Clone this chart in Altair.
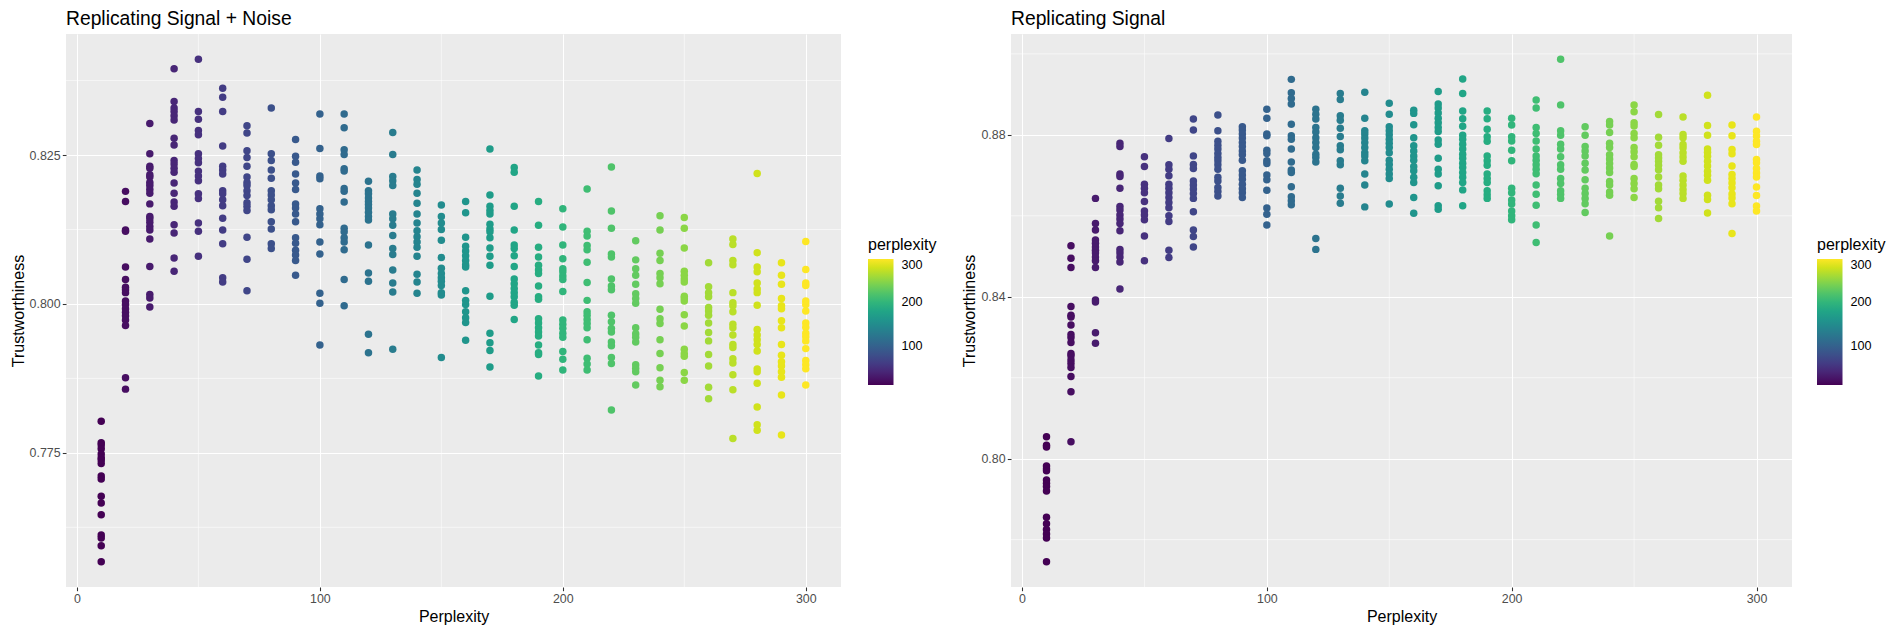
import altair as alt
import pandas as pd

PERPLEXITY = [10, 20, 30, 40, 50, 60, 70, 80, 90, 100, 110, 120, 130, 140, 150,
              160, 170, 180, 190, 200, 210, 220, 230, 240, 250, 260, 270, 280, 290, 300]

# Trustworthiness per perplexity value, panel "Replicating Signal + Noise"
NOISE_TRUST = [
    [0.7803, 0.7767, 0.7763, 0.7757, 0.7748, 0.7742, 0.7738, 0.7732, 0.7711, 0.7706, 0.7677, 0.7666, 0.7646, 0.7612, 0.7607, 0.7594, 0.7567],
    [0.8189, 0.8172, 0.8124, 0.8122, 0.8062, 0.8041, 0.8028, 0.8024, 0.8019, 0.8005, 0.7999, 0.7992, 0.7986, 0.7980, 0.7973, 0.7964, 0.7876, 0.7857],
    [0.8303, 0.8252, 0.8231, 0.8228, 0.8217, 0.8213, 0.8204, 0.8199, 0.8192, 0.8186, 0.8168, 0.8147, 0.8143, 0.8137, 0.8130, 0.8124, 0.8109, 0.8063, 0.8016, 0.8010, 0.7995],
    [0.8395, 0.8340, 0.8329, 0.8323, 0.8316, 0.8309, 0.8278, 0.8267, 0.8241, 0.8235, 0.8228, 0.8221, 0.8203, 0.8186, 0.8171, 0.8164, 0.8133, 0.8119, 0.8077, 0.8055],
    [0.8411, 0.8323, 0.8310, 0.8291, 0.8284, 0.8252, 0.8244, 0.8237, 0.8223, 0.8215, 0.8207, 0.8185, 0.8177, 0.8136, 0.8122, 0.8080],
    [0.8362, 0.8347, 0.8323, 0.8265, 0.8231, 0.8225, 0.8218, 0.8190, 0.8185, 0.8175, 0.8165, 0.8144, 0.8124, 0.8101, 0.8044, 0.8037],
    [0.8299, 0.8287, 0.8257, 0.8246, 0.8231, 0.8213, 0.8204, 0.8199, 0.8190, 0.8182, 0.8170, 0.8164, 0.8157, 0.8112, 0.8075, 0.8022],
    [0.8329, 0.8252, 0.8241, 0.8225, 0.8211, 0.8190, 0.8183, 0.8175, 0.8165, 0.8158, 0.8138, 0.8126, 0.8101, 0.8093],
    [0.8276, 0.8248, 0.8238, 0.8218, 0.8203, 0.8192, 0.8168, 0.8161, 0.8151, 0.8138, 0.8111, 0.8102, 0.8090, 0.8082, 0.8073, 0.8048],
    [0.8319, 0.8261, 0.8215, 0.8210, 0.8160, 0.8151, 0.8143, 0.8133, 0.8104, 0.8084, 0.8018, 0.8001, 0.7931],
    [0.8319, 0.8296, 0.8259, 0.8251, 0.8227, 0.8223, 0.8194, 0.8189, 0.8171, 0.8127, 0.8121, 0.8111, 0.8104, 0.8091, 0.8041, 0.7997],
    [0.8206, 0.8190, 0.8185, 0.8178, 0.8172, 0.8167, 0.8161, 0.8154, 0.8147, 0.8141, 0.8099, 0.8052, 0.8038, 0.7949, 0.7918],
    [0.8288, 0.8251, 0.8214, 0.8207, 0.8199, 0.8151, 0.8143, 0.8132, 0.8115, 0.8093, 0.8083, 0.8057, 0.8035, 0.8020, 0.7924],
    [0.8225, 0.8209, 0.8201, 0.8186, 0.8169, 0.8151, 0.8136, 0.8123, 0.8113, 0.8104, 0.8095, 0.8080, 0.8050, 0.8037, 0.8018],
    [0.8166, 0.8147, 0.8136, 0.8125, 0.8107, 0.8078, 0.8060, 0.8051, 0.8044, 0.8038, 0.8031, 0.8019, 0.8015, 0.7910],
    [0.8172, 0.8153, 0.8112, 0.8097, 0.8089, 0.8081, 0.8073, 0.8066, 0.8062, 0.8022, 0.8006, 0.7999, 0.7987, 0.7977, 0.7969, 0.7939],
    [0.8260, 0.8183, 0.8164, 0.8157, 0.8151, 0.8134, 0.8126, 0.8121, 0.8111, 0.8094, 0.8080, 0.8065, 0.8013, 0.7951, 0.7935, 0.7922, 0.7894],
    [0.8229, 0.8221, 0.8164, 0.8124, 0.8099, 0.8093, 0.8081, 0.8063, 0.8042, 0.8034, 0.8026, 0.8019, 0.8012, 0.8003, 0.7998, 0.7974],
    [0.8172, 0.8132, 0.8095, 0.8079, 0.8065, 0.8057, 0.8051, 0.8030, 0.8012, 0.8008, 0.7975, 0.7968, 0.7960, 0.7953, 0.7946, 0.7931, 0.7918, 0.7915, 0.7879],
    [0.8160, 0.8129, 0.8099, 0.8076, 0.8059, 0.8054, 0.8047, 0.8041, 0.8021, 0.7973, 0.7966, 0.7959, 0.7951, 0.7944, 0.7920, 0.7907, 0.7889],
    [0.8193, 0.8122, 0.8114, 0.8098, 0.8091, 0.8070, 0.8036, 0.8006, 0.7987, 0.7981, 0.7974, 0.7967, 0.7960, 0.7940, 0.7909, 0.7899, 0.7889],
    [0.8230, 0.8156, 0.8127, 0.8084, 0.8079, 0.8042, 0.8030, 0.8024, 0.7981, 0.7970, 0.7959, 0.7953, 0.7936, 0.7930, 0.7910, 0.7900, 0.7822],
    [0.8106, 0.8074, 0.8059, 0.8048, 0.8033, 0.8017, 0.8009, 0.8001, 0.7960, 0.7950, 0.7944, 0.7936, 0.7898, 0.7892, 0.7886, 0.7864],
    [0.8148, 0.8124, 0.8085, 0.8073, 0.8051, 0.8044, 0.8034, 0.7991, 0.7975, 0.7967, 0.7940, 0.7917, 0.7893, 0.7872, 0.7861],
    [0.8145, 0.8127, 0.8094, 0.8055, 0.8048, 0.8042, 0.8037, 0.8013, 0.8009, 0.8005, 0.7982, 0.7963, 0.7924, 0.7917, 0.7912, 0.7885, 0.7872],
    [0.8069, 0.8029, 0.8019, 0.8012, 0.7994, 0.7988, 0.7981, 0.7968, 0.7952, 0.7938, 0.7915, 0.7896, 0.7860, 0.7841],
    [0.8109, 0.8100, 0.8073, 0.8066, 0.8019, 0.8002, 0.7997, 0.7987, 0.7966, 0.7960, 0.7948, 0.7932, 0.7927, 0.7908, 0.7901, 0.7881, 0.7856, 0.7774],
    [0.8219, 0.8086, 0.8062, 0.8054, 0.8035, 0.8025, 0.8019, 0.7998, 0.7957, 0.7948, 0.7940, 0.7932, 0.7921, 0.7891, 0.7886, 0.7867, 0.7827, 0.7797, 0.7788],
    [0.8069, 0.8048, 0.8033, 0.8009, 0.7997, 0.7992, 0.7972, 0.7960, 0.7932, 0.7914, 0.7903, 0.7896, 0.7886, 0.7877, 0.7847, 0.7780],
    [0.8105, 0.8058, 0.8035, 0.8031, 0.8005, 0.7999, 0.7988, 0.7968, 0.7961, 0.7951, 0.7945, 0.7938, 0.7925, 0.7905, 0.7898, 0.7891, 0.7864],
]

# Trustworthiness per perplexity value, panel "Replicating Signal"
SIGNAL_TRUST = [
    [0.8054, 0.8033, 0.8029, 0.7982, 0.7975, 0.7970, 0.7947, 0.7939, 0.7931, 0.7920, 0.7855, 0.7839, 0.7825, 0.7814, 0.7804, 0.7745],
    [0.8526, 0.8495, 0.8472, 0.8376, 0.8354, 0.8350, 0.8330, 0.8307, 0.8299, 0.8287, 0.8260, 0.8254, 0.8244, 0.8235, 0.8225, 0.8203, 0.8165, 0.8042],
    [0.8643, 0.8581, 0.8565, 0.8540, 0.8532, 0.8523, 0.8515, 0.8508, 0.8498, 0.8489, 0.8472, 0.8392, 0.8387, 0.8311, 0.8285],
    [0.8779, 0.8771, 0.8703, 0.8697, 0.8668, 0.8623, 0.8614, 0.8602, 0.8592, 0.8581, 0.8563, 0.8517, 0.8508, 0.8498, 0.8486, 0.8419],
    [0.8746, 0.8722, 0.8678, 0.8668, 0.8657, 0.8635, 0.8612, 0.8602, 0.8590, 0.8550, 0.8489],
    [0.8791, 0.8726, 0.8715, 0.8699, 0.8678, 0.8668, 0.8657, 0.8645, 0.8633, 0.8620, 0.8600, 0.8586, 0.8515, 0.8497],
    [0.8839, 0.8812, 0.8748, 0.8727, 0.8717, 0.8686, 0.8676, 0.8666, 0.8655, 0.8643, 0.8610, 0.8565, 0.8549, 0.8523],
    [0.8849, 0.8810, 0.8784, 0.8774, 0.8765, 0.8754, 0.8744, 0.8736, 0.8726, 0.8715, 0.8695, 0.8686, 0.8670, 0.8660, 0.8649],
    [0.8820, 0.8812, 0.8802, 0.8792, 0.8781, 0.8771, 0.8760, 0.8751, 0.8737, 0.8711, 0.8701, 0.8690, 0.8678, 0.8667, 0.8657, 0.8645],
    [0.8863, 0.8841, 0.8802, 0.8798, 0.8762, 0.8754, 0.8736, 0.8729, 0.8701, 0.8689, 0.8663, 0.8619, 0.8604, 0.8577],
    [0.8937, 0.8904, 0.8890, 0.8876, 0.8826, 0.8798, 0.8789, 0.8765, 0.8733, 0.8713, 0.8707, 0.8672, 0.8647, 0.8637, 0.8627],
    [0.8863, 0.8851, 0.8839, 0.8818, 0.8807, 0.8793, 0.8781, 0.8769, 0.8752, 0.8744, 0.8733, 0.8544, 0.8517],
    [0.8902, 0.8887, 0.8847, 0.8836, 0.8816, 0.8796, 0.8773, 0.8763, 0.8736, 0.8726, 0.8668, 0.8649, 0.8631],
    [0.8905, 0.8841, 0.8810, 0.8802, 0.8792, 0.8781, 0.8769, 0.8756, 0.8748, 0.8736, 0.8703, 0.8676, 0.8622],
    [0.8878, 0.8851, 0.8820, 0.8810, 0.8800, 0.8789, 0.8779, 0.8769, 0.8756, 0.8737, 0.8727, 0.8715, 0.8703, 0.8692, 0.8629],
    [0.8861, 0.8853, 0.8825, 0.8793, 0.8773, 0.8760, 0.8748, 0.8737, 0.8722, 0.8711, 0.8695, 0.8682, 0.8645, 0.8606],
    [0.8907, 0.8876, 0.8866, 0.8854, 0.8841, 0.8830, 0.8818, 0.8808, 0.8787, 0.8777, 0.8742, 0.8715, 0.8703, 0.8674, 0.8625, 0.8616],
    [0.8938, 0.8902, 0.8859, 0.8840, 0.8821, 0.8799, 0.8789, 0.8777, 0.8765, 0.8752, 0.8742, 0.8730, 0.8719, 0.8707, 0.8695, 0.8682, 0.8664, 0.8625],
    [0.8859, 0.8840, 0.8814, 0.8795, 0.8784, 0.8748, 0.8736, 0.8725, 0.8703, 0.8692, 0.8682, 0.8662, 0.8652, 0.8643],
    [0.8841, 0.8824, 0.8795, 0.8785, 0.8762, 0.8736, 0.8668, 0.8657, 0.8639, 0.8629, 0.8612, 0.8600, 0.8590],
    [0.8886, 0.8866, 0.8818, 0.8803, 0.8785, 0.8765, 0.8748, 0.8737, 0.8726, 0.8715, 0.8704, 0.8676, 0.8653, 0.8626, 0.8577, 0.8534],
    [0.8987, 0.8874, 0.8810, 0.8799, 0.8777, 0.8765, 0.8746, 0.8726, 0.8715, 0.8692, 0.8680, 0.8662, 0.8653, 0.8643],
    [0.8820, 0.8799, 0.8771, 0.8760, 0.8748, 0.8730, 0.8713, 0.8689, 0.8668, 0.8655, 0.8643, 0.8630, 0.8608],
    [0.8833, 0.8824, 0.8806, 0.8779, 0.8769, 0.8751, 0.8740, 0.8729, 0.8718, 0.8707, 0.8685, 0.8676, 0.8659, 0.8651, 0.8550],
    [0.8874, 0.8857, 0.8830, 0.8822, 0.8803, 0.8793, 0.8769, 0.8758, 0.8746, 0.8727, 0.8722, 0.8692, 0.8680, 0.8667, 0.8645],
    [0.8850, 0.8794, 0.8774, 0.8751, 0.8743, 0.8735, 0.8725, 0.8714, 0.8696, 0.8676, 0.8667, 0.8636, 0.8620, 0.8593],
    [0.8844, 0.8801, 0.8793, 0.8776, 0.8768, 0.8756, 0.8745, 0.8735, 0.8698, 0.8688, 0.8676, 0.8665, 0.8655, 0.8643],
    [0.8898, 0.8823, 0.8799, 0.8765, 0.8757, 0.8747, 0.8735, 0.8723, 0.8710, 0.8700, 0.8688, 0.8651, 0.8640, 0.8607],
    [0.8824, 0.8798, 0.8764, 0.8753, 0.8723, 0.8702, 0.8692, 0.8681, 0.8669, 0.8654, 0.8644, 0.8630, 0.8556],
    [0.8844, 0.8809, 0.8797, 0.8784, 0.8776, 0.8739, 0.8731, 0.8717, 0.8706, 0.8696, 0.8671, 0.8650, 0.8624, 0.8612],
]

X_MAJOR = [0, 100, 200, 300]
X_MINOR = [50, 150, 250]
NOISE_Y_MAJOR = [0.775, 0.800, 0.825]
NOISE_Y_MINOR = [0.7625, 0.7875, 0.8125, 0.8375]
SIGNAL_Y_MAJOR = [0.80, 0.84, 0.88]
SIGNAL_Y_MINOR = [0.78, 0.82, 0.86, 0.90]
LEGEND_VALUES = [100, 200, 300]

FONT = "Liberation Sans"


def long_table(values):
    rows = []
    for p, col in zip(PERPLEXITY, values):
        for v in col:
            rows.append({"perplexity": p, "trust": v})
    return pd.DataFrame(rows)


def expand(lo, hi, mult=0.05):
    span = hi - lo
    return [lo - span * mult, hi + span * mult]


def panel(values, title, y_major, y_minor, y_fmt, width, height, legend_gap):
    df = long_table(values)
    xdom = expand(min(PERPLEXITY), max(PERPLEXITY))
    ydom = expand(df["trust"].min(), df["trust"].max())
    xs = alt.Scale(domain=xdom, nice=False, zero=False)
    ys = alt.Scale(domain=ydom, nice=False, zero=False)
    xaxis = alt.Axis(values=X_MAJOR, format="d")
    yaxis = alt.Axis(values=y_major, format=y_fmt)

    xminor = alt.Chart(pd.DataFrame({"perplexity": X_MINOR})).mark_rule(
        color="white", strokeWidth=0.55
    ).encode(x=alt.X("perplexity:Q", scale=xs, axis=xaxis, title="Perplexity"))
    yminor = alt.Chart(pd.DataFrame({"trust": y_minor})).mark_rule(
        color="white", strokeWidth=0.55
    ).encode(y=alt.Y("trust:Q", scale=ys, axis=yaxis, title="Trustworthiness"))

    pts = alt.Chart(df).mark_circle(size=56, opacity=1).encode(
        x=alt.X("perplexity:Q", scale=xs, title="Perplexity", axis=xaxis),
        y=alt.Y("trust:Q", scale=ys, title="Trustworthiness", axis=yaxis),
        color=alt.Color(
            "perplexity:Q",
            scale=alt.Scale(scheme="viridis", domain=[min(PERPLEXITY), max(PERPLEXITY)]),
            legend=alt.Legend(
                title="perplexity", values=LEGEND_VALUES, orient="none",
                legendX=width + legend_gap, legendY=203,
                gradientLength=126, gradientThickness=25.5,
                titleFontSize=16, titleFontWeight="normal", titleColor="black",
                titleFont=FONT, labelFont=FONT, labelFontSize=12.6, labelColor="black",
                labelOffset=8, titlePadding=6, gradientStrokeWidth=0,
            ),
        ),
    )
    return alt.layer(xminor, yminor, pts).properties(
        width=width, height=height,
        title=alt.TitleParams(title, anchor="start", frame="group", fontSize=19.3,
                              fontWeight="normal", color="black", font=FONT, offset=4),
    )


left = panel(NOISE_TRUST, "Replicating Signal + Noise", NOISE_Y_MAJOR, NOISE_Y_MINOR,
             ".3f", 775, 553, 27)
right = panel(SIGNAL_TRUST, "Replicating Signal", SIGNAL_Y_MAJOR, SIGNAL_Y_MINOR,
              ".2f", 781, 553, 25)

chart = alt.hconcat(left, right, spacing=24).resolve_scale(
    color="independent"
).resolve_legend(color="independent").properties(
    padding={"left": 2, "top": 2, "right": 0, "bottom": 0}, background="white"
).configure_view(
    fill="#EBEBEB", stroke=None
).configure_axis(
    grid=True, gridColor="white", gridWidth=1.07, domain=False,
    tickColor="#333333", tickSize=3.7, tickWidth=1.07,
    labelColor="#4D4D4D", labelFontSize=12.4, labelFont=FONT, labelPadding=2.2,
    titleColor="black", titleFontSize=16, titleFont=FONT, titleFontWeight="normal",
    titlePadding=3,
)

chart.save("out.html", embed_options={"renderer": "svg", "actions": False})
